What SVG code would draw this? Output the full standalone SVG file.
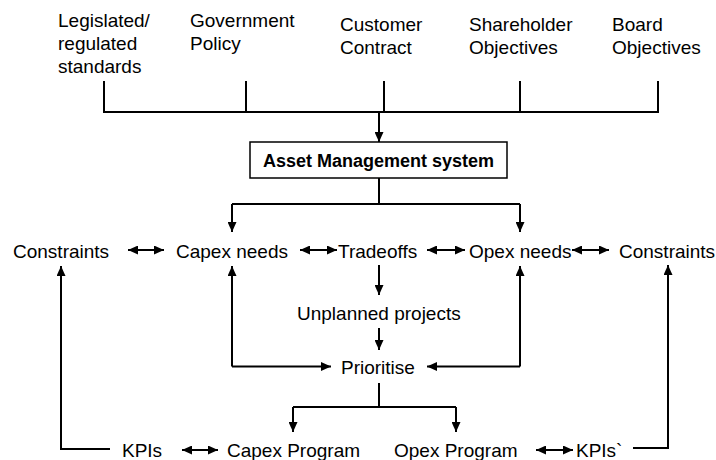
<svg xmlns="http://www.w3.org/2000/svg" width="716" height="460" viewBox="0 0 716 460">
<style>
text{font-family:"Liberation Sans",Arial,sans-serif;font-size:19px;fill:#000}
.b{font-weight:bold;font-size:18px}
.c{fill:none;stroke:#000;stroke-width:2}
.a{marker-end:url(#ah)}
.d{marker-start:url(#ah);marker-end:url(#ah)}
</style>
<defs>
<marker id="ah" markerUnits="userSpaceOnUse" markerWidth="10" markerHeight="9" refX="10" refY="4.5" orient="auto-start-reverse"><path d="M0,0 L10,4.5 L0,9 z" fill="#000"/></marker>
</defs>
<g id="connectors">
<path class="c" d="M104,81 V112 H658 V81 M246,81 V112 M384,81 V112 M520,81 V112"/>
<path class="c a" d="M379,112 V142"/>
<path class="c" d="M379,178 V204 M232,204 H520"/>
<path class="c a" d="M232,204 V232"/>
<path class="c a" d="M520,204 V232"/>
<path class="c d" d="M128,250 H164"/>
<path class="c d" d="M300,250 H337"/>
<path class="c d" d="M427,250 H465"/>
<path class="c d" d="M572,250 H609"/>
<path class="c a" d="M110,449 H61 V266"/>
<path class="c a" d="M232,366.5 V266"/>
<path class="c a" d="M232,366.5 H331"/>
<path class="c a" d="M520,366.5 V266"/>
<path class="c a" d="M520,366.5 H427"/>
<path class="c a" d="M633,448 H668 V265"/>
<path class="c a" d="M379,265 V295"/>
<path class="c a" d="M379,328 V350"/>
<path class="c" d="M379,383 V407 M293,407 H456"/>
<path class="c a" d="M293,407 V432"/>
<path class="c a" d="M456,407 V432"/>
<path class="c d" d="M182,450 H218"/>
<path class="c d" d="M536,450 H573"/>
</g>
<g id="legislated"><text x="58" y="27">Legislated/</text><text x="58" y="50">regulated</text><text x="58" y="73">standards</text></g>
<g id="government"><text x="190" y="27">Government</text><text x="190" y="50">Policy</text></g>
<g id="customer"><text x="340" y="31">Customer</text><text x="340" y="54">Contract</text></g>
<g id="shareholder"><text x="469" y="31">Shareholder</text><text x="469" y="54">Objectives</text></g>
<g id="board"><text x="612" y="31">Board</text><text x="612" y="54">Objectives</text></g>
<g id="ams"><rect x="250" y="142" width="257" height="36" fill="#fff" stroke="#000" stroke-width="1.5"/><text class="b" x="263" y="167">Asset Management system</text></g>
<g id="constraints-left"><text x="13" y="257.5">Constraints</text></g>
<g id="capex-needs"><text x="176" y="257.5">Capex needs</text></g>
<g id="tradeoffs"><text x="338" y="257.5">Tradeoffs</text></g>
<g id="opex-needs"><text x="469" y="257.5">Opex needs</text></g>
<g id="constraints-right"><text x="619" y="257.5">Constraints</text></g>
<g id="unplanned"><text x="297" y="320">Unplanned projects</text></g>
<g id="prioritise"><text x="341" y="373.5">Prioritise</text></g>
<g id="kpis-left"><text x="122" y="457">KPIs</text></g>
<g id="capex-program"><text x="227" y="457">Capex Program</text></g>
<g id="opex-program"><text x="394" y="457">Opex Program</text></g>
<g id="kpis-right"><text x="576" y="457">KPIs`</text></g>
</svg>
